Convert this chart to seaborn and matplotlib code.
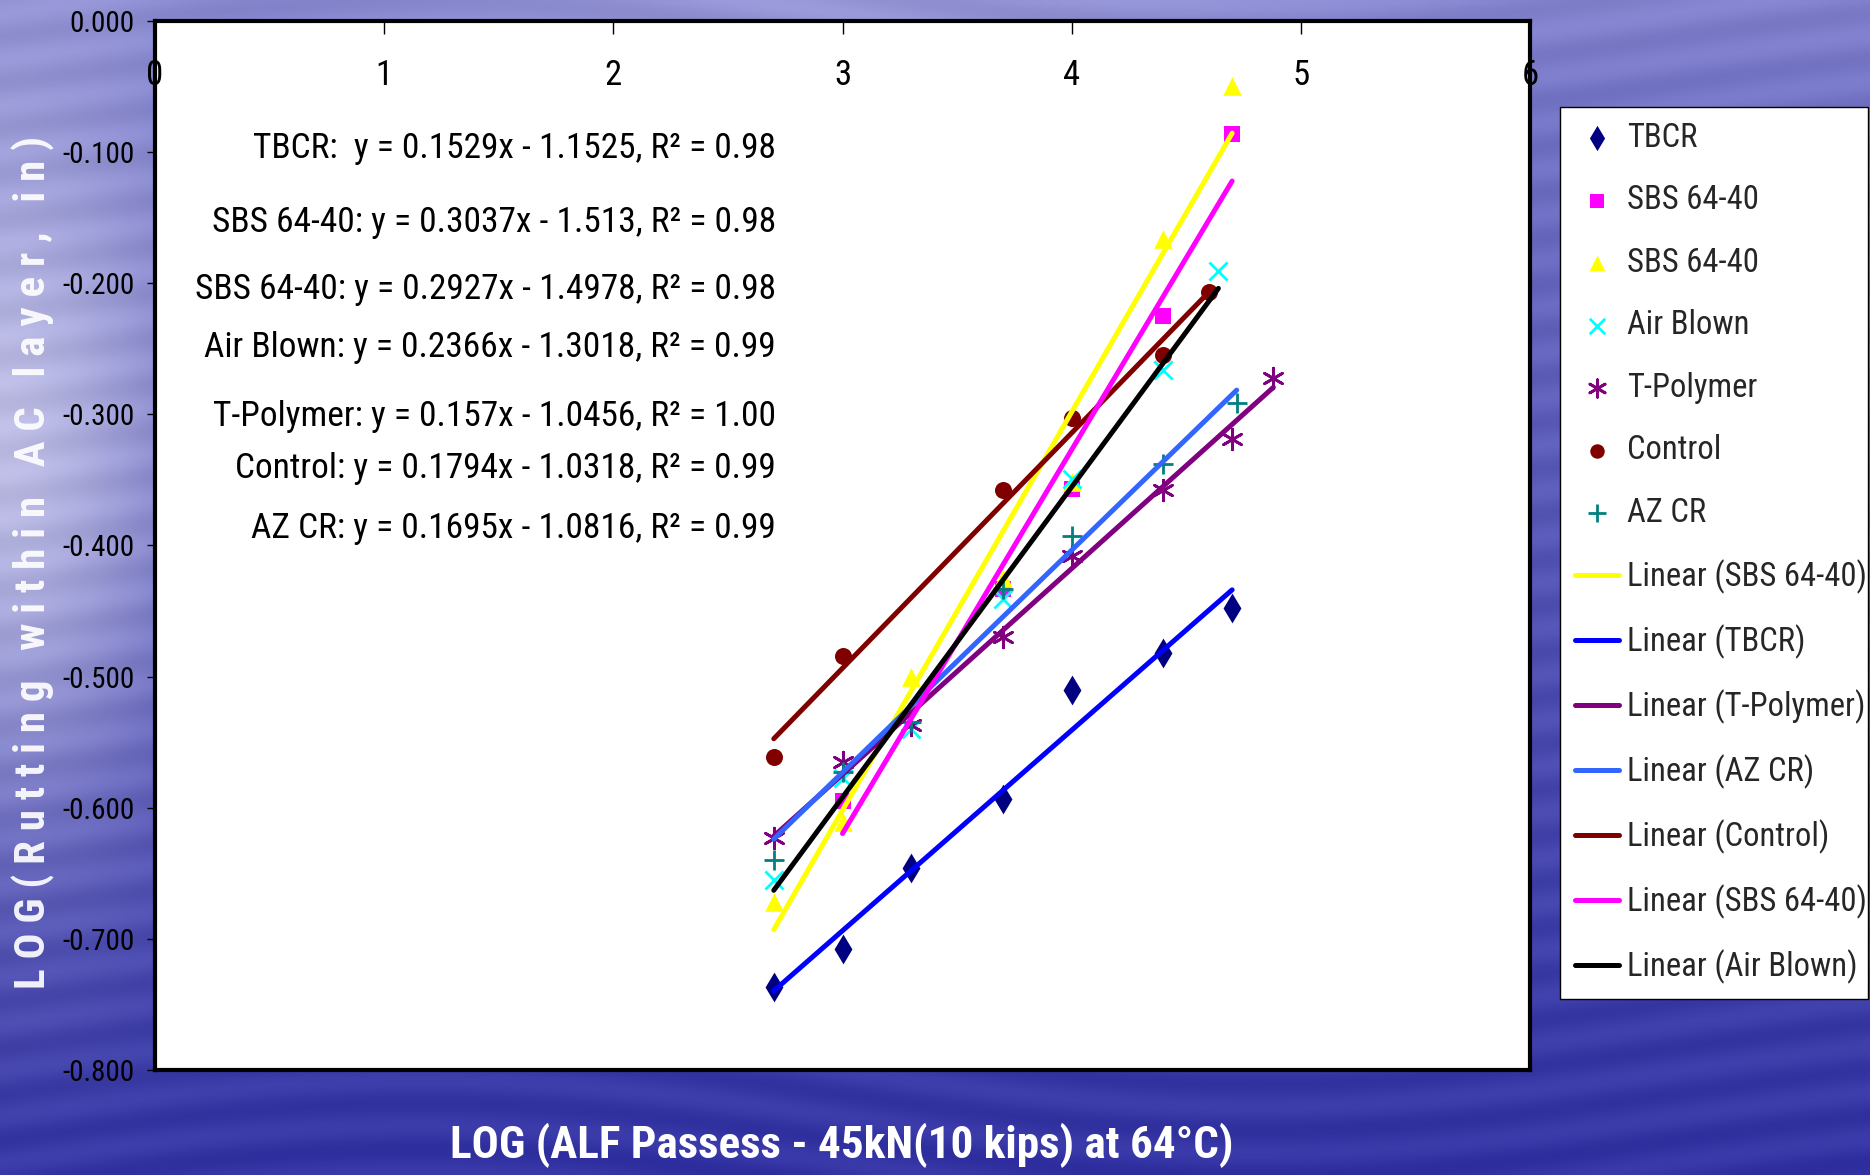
import os
import numpy as np
import pandas as pd
import matplotlib
matplotlib.use('Agg')
import matplotlib.pyplot as plt
from matplotlib import font_manager as fm
import seaborn as sns

# Measured points (x = LOG ALF passes, y = LOG rutting)
tbcr_x = [2.7, 3.0, 3.3, 3.7, 4.0, 4.4, 4.7]
tbcr_y = [-0.737, -0.708, -0.646, -0.593, -0.510, -0.482, -0.448]
sbs_sq_x = [3.0, 3.7, 4.0, 4.4, 4.7]
sbs_sq_y = [-0.595, -0.433, -0.357, -0.225, -0.086]
sbs_tri_x = [2.7, 3.0, 3.3, 3.7, 4.0, 4.4, 4.7]
sbs_tri_y = [-0.672, -0.611, -0.500, -0.425, -0.352, -0.166, -0.050]
air_x = [2.7, 3.0, 3.3, 3.7, 4.0, 4.4, 4.64]
air_y = [-0.655, -0.577, -0.540, -0.441, -0.349, -0.266, -0.191]
tpoly_x = [2.7, 3.0, 3.3, 3.7, 4.0, 4.4, 4.7, 4.88]
tpoly_y = [-0.623, -0.565, -0.537, -0.470, -0.408, -0.358, -0.319, -0.272]
control_x = [2.7, 3.0, 3.7, 4.0, 4.4, 4.6]
control_y = [-0.561, -0.484, -0.358, -0.303, -0.255, -0.207]
azcr_x = [2.7, 3.0, 3.3, 3.7, 4.0, 4.4, 4.72]
azcr_y = [-0.640, -0.573, -0.535, -0.433, -0.393, -0.338, -0.291]

# Trend lines as printed on the chart (slope, intercept)
trend_labels = ['Linear (SBS 64-40)', 'Linear (TBCR)', 'Linear (T-Polymer)', 'Linear (AZ CR)',
                'Linear (Control)', 'Linear (SBS 64-40)', 'Linear (Air Blown)']
trend_slopes = [0.3037, 0.1529, 0.157, 0.1695, 0.1794, 0.2927, 0.2366]
trend_intercepts = [-1.513, -1.1525, -1.0456, -1.0816, -1.0318, -1.4978, -1.3018]

eq_lines = ['TBCR:  y = 0.1529x - 1.1525, R² = 0.98',
            'SBS 64-40: y = 0.3037x - 1.513, R² = 0.98',
            'SBS 64-40: y = 0.2927x - 1.4978, R² = 0.98',
            'Air Blown: y = 0.2366x - 1.3018, R² = 0.99',
            'T-Polymer: y = 0.157x - 1.0456, R² = 1.00',
            'Control: y = 0.1794x - 1.0318, R² = 0.99',
            'AZ CR: y = 0.1695x - 1.0816, R² = 0.99']
eq_y = [-0.097, -0.154, -0.205, -0.249, -0.302, -0.341, -0.387]

xtick_vals = [0, 1, 2, 3, 4, 5, 6]
ytick_vals = [-0.8, -0.7, -0.6, -0.5, -0.4, -0.3, -0.2, -0.1, 0.0]
ytick_labels = ['-0.800', '-0.700', '-0.600', '-0.500', '-0.400', '-0.300', '-0.200', '-0.100', '0.000']


def pick_font(bold):
    # look for an Arial Narrow-like face among the installed fonts
    best, best_score = None, -1
    for f in fm.fontManager.ttflist:
        name = f.name.lower()
        base = os.path.basename(f.fname).lower()
        if f.style != 'normal' or 'italic' in base or 'oblique' in base:
            continue
        if 'mono' in name or 'serif' in name.replace('sans serif', '') or 'cjk' in name:
            continue
        w = f.weight if isinstance(f.weight, int) else fm.weight_dict.get(f.weight, 400)
        if bold and w < 600:
            continue
        if not bold and not (350 <= w < 600):
            continue
        txt = name + ' ' + base
        if 'semicondensed' in txt or 'semi condensed' in txt:
            s = 6
        elif 'extracondensed' in txt or 'ultracondensed' in txt or 'extra condensed' in txt:
            s = 4
        elif 'narrow' in txt or 'condensed' in txt or 'cond' in base:
            s = 10
        else:
            s = 0
        if 'liberation' in txt or 'arial' in txt:
            s += 4
        elif 'roboto' in txt:
            s += 3
        elif 'noto' in txt:
            s += 2
        elif 'dejavu' in txt or 'open' in txt:
            s += 1
        if bold and w == 700:
            s += 1
        if not bold and w == 400:
            s += 1
        if s > best_score:
            best, best_score = f.fname, s
    return best


reg_path = pick_font(False)
bold_path = pick_font(True)


def fprop(size, bold=False):
    path = bold_path if bold else reg_path
    if path:
        return fm.FontProperties(fname=path, size=size)
    return fm.FontProperties(family='Liberation Sans', size=size * 0.85,
                             weight='bold' if bold else 'normal')


sns.set_theme(style='white')
plt.rcParams['font.family'] = ['Liberation Sans', 'DejaVu Sans']
plt.rcParams['axes.unicode_minus'] = False

fig = plt.figure(figsize=(18.7, 11.75), dpi=100)

# water-like blue slide background
bg = fig.add_axes([0, 0, 1, 1], zorder=-10)
yy, xx = np.mgrid[0:1:240j, 0:1:380j]
top = np.array([0.50, 0.50, 0.80])
bottom = np.array([0.20, 0.20, 0.64])
t = (yy ** 0.8)[..., None]
img = top * (1 - t) + bottom * t
glow = (np.exp(-(xx / 0.10) ** 2) * np.exp(-((yy - 0.38) / 0.33) ** 2))[..., None] * 0.75
img = img * (1 - glow) + np.array([0.86, 0.86, 0.95]) * glow
band = (np.exp(-(yy / 0.07) ** 2) * np.exp(-((xx - 0.45) / 0.3) ** 2))[..., None] * 0.35
img = img * (1 - band) + np.array([0.75, 0.75, 0.92]) * band
streak = 0.025 * np.sin(yy * 160 + 5 * np.sin(xx * 7))
img = np.clip(img + streak[..., None], 0, 1)
bg.imshow(img, aspect='auto', extent=[0, 1, 0, 1], interpolation='bilinear')
bg.axis('off')

ax = fig.add_axes([0.0829, 0.0894, 0.7353, 0.8928])
ax.set_facecolor('white')

series = [
    ('TBCR', tbcr_x, tbcr_y, 'd', '#000080', 230, 0),
    ('SBS 64-40', sbs_sq_x, sbs_sq_y, 's', '#ff00ff', 130, 0),
    ('SBS 64-40', sbs_tri_x, sbs_tri_y, '^', '#ffff00', 180, 0),
    ('Air Blown', air_x, air_y, 'x', '#00ffff', 170, 2),
    ('T-Polymer', tpoly_x, tpoly_y, (6, 2, 0), '#800080', 220, 2),
    ('Control', control_x, control_y, 'o', '#800000', 150, 0),
    ('AZ CR', azcr_x, azcr_y, '+', '#008080', 220, 2),
]
for name, xs, ys, mk, col, sz, lw in series:
    df = pd.DataFrame({'x': xs, 'y': ys})
    if lw:
        sns.scatterplot(data=df, x='x', y='y', marker=mk, color=col, s=sz, linewidth=lw,
                        label=name, ax=ax, zorder=2)
    else:
        sns.scatterplot(data=df, x='x', y='y', marker=mk, color=col, s=sz, edgecolor=col,
                        linewidth=0, label=name, ax=ax, zorder=2)

trend_colors = ['#ffff00', '#0000ff', '#800080', '#3366ff', '#800000', '#ff00ff', '#000000']
trend_ranges = [sbs_tri_x, tbcr_x, tpoly_x, azcr_x, control_x, sbs_sq_x, air_x]
for lab, m, b, col, xr in zip(trend_labels, trend_slopes, trend_intercepts, trend_colors, trend_ranges):
    xs = np.array([min(xr), max(xr)])
    line_df = pd.DataFrame({'x': xs, 'y': m * xs + b})
    sns.lineplot(data=line_df, x='x', y='y', color=col, linewidth=3.6, label=lab, ax=ax, zorder=3)

for txt, yv in zip(eq_lines, eq_y):
    ax.text(0.4516, yv, txt, transform=ax.get_yaxis_transform(), ha='right', va='center',
            fontproperties=fprop(25.5), color='black')

ax.set_xlim(0, 6)
ax.set_ylim(-0.8, 0)
ax.set_xticks(xtick_vals, labels=[str(v) for v in xtick_vals], fontproperties=fprop(25))
ax.set_yticks(ytick_vals, labels=ytick_labels, fontproperties=fprop(21))
ax.tick_params(axis='x', top=True, bottom=False, labeltop=True, labelbottom=False,
               direction='in', length=9, width=1, pad=-51, colors='black')
ax.tick_params(axis='y', left=True, direction='out', length=6, width=1, pad=9, colors='black')
ax.set_xlabel('')
ax.set_ylabel('')
for sp in ax.spines.values():
    sp.set_visible(True)
    sp.set_color('black')
    sp.set_linewidth(3)

handles, labels = ax.get_legend_handles_labels()
leg = ax.legend(handles, labels, loc='upper left', mode='expand',
                bbox_to_anchor=(1560 / 1870, 0.159, 0.1647, 1 - 107 / 1175 - 0.159),
                bbox_transform=fig.transFigure, borderaxespad=0, frameon=True, fancybox=False,
                edgecolor='black', framealpha=1, prop=fprop(23.5), labelspacing=0.935,
                handlelength=1.35, handletextpad=0.25, borderpad=0.45, markerscale=0.85)
leg.get_frame().set_linewidth(1)

fig.text(0.450, 0.0255, 'LOG (ALF Passess - 45kN(10 kips) at 64°C)', ha='center', va='center',
         fontproperties=fprop(32.5, bold=True), color='white')
ylab = '   '.join(' '.join(w) for w in 'LOG(Rutting within AC layer, in)'.split(' '))
fig.text(0.018, 0.521, ylab, rotation=90, ha='center', va='center',
         fontproperties=fprop(31, bold=True), color='white', alpha=0.92)

fig.savefig('out.png', dpi=100)
